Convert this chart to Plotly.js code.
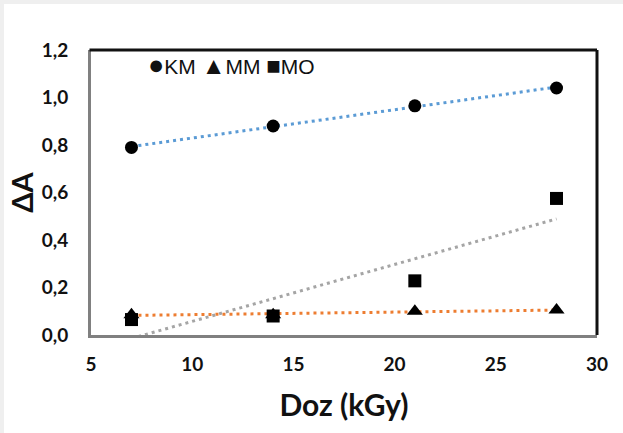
<!DOCTYPE html>
<html>
<head>
<meta charset="utf-8">
<script src="https://cdn.plot.ly/plotly-3.0.1.min.js"></script>
<style>
  html, body { margin: 0; padding: 0; background: #efefef; width: 623px; height: 433px; overflow: hidden; }
  #chart { position: absolute; left: 4px; top: 4px; width: 619px; height: 429px; background: #fff; }
</style>
</head>
<body>
<div id="chart"></div>
<script>
// Data
const doses = [7, 14, 21, 28];
const kmValues = [0.79, 0.88, 0.965, 1.04];
const mmValues = [0.085, 0.085, 0.10, 0.105];
const moValues = [0.065, 0.08, 0.228, 0.575];
const seriesNames = ['KM', 'MM', 'MO'];
const xTicks = [5, 10, 15, 20, 25, 30];
const yTicks = [0, 0.2, 0.4, 0.6, 0.8, 1.0, 1.2];

// Least-squares linear trendline (as the spreadsheet trendline does)
function trend(xs, ys) {
  const n = xs.length;
  const mx = xs.reduce((a, b) => a + b, 0) / n;
  const my = ys.reduce((a, b) => a + b, 0) / n;
  let sxy = 0, sxx = 0;
  for (let i = 0; i < n; i++) { sxy += (xs[i] - mx) * (ys[i] - my); sxx += (xs[i] - mx) * (xs[i] - mx); }
  const m = sxy / sxx, c = my - m * mx;
  return xs.map(x => m * x + c);
}

const trendColors = ['#5B9BD5', '#ED7D31', '#A5A5A5'];
const symbols = ['circle', 'triangle-up', 'square'];
const allVals = [kmValues, mmValues, moValues];

const traces = [];
// trendlines first (drawn under markers)
allVals.forEach((vals, i) => {
  traces.push({
    x: doses, y: trend(doses, vals), mode: 'lines', showlegend: false, hoverinfo: 'skip',
    line: { color: trendColors[i], width: 3, dash: '3px,4px' }
  });
});
allVals.forEach((vals, i) => {
  traces.push({
    x: doses, y: vals, mode: 'markers', name: seriesNames[i], showlegend: false,
    marker: { symbol: symbols[i], color: '#000', size: i === 1 ? 14 : 13, line: { width: 0 } },
    cliponaxis: false
  });
});

const tickFont = { family: 'Lato, "Open Sans", sans-serif', size: 19, color: '#111', weight: 'bold' };

const layout = {
  width: 619, height: 429,
  margin: { l: 87, r: 26, t: 46, b: 98 },
  paper_bgcolor: '#ffffff', plot_bgcolor: '#ffffff',
  separators: ', ',
  showlegend: false,
  xaxis: {
    range: [5, 30], tickvals: xTicks, ticktext: xTicks.map(String),
    showgrid: false, zeroline: false, showline: true, linecolor: '#808080', linewidth: 3,
    ticks: '', ticklabelstandoff: 10, tickfont: tickFont,
    title: { text: 'Doz (kGy)', font: { family: 'Lato, "Open Sans", sans-serif', size: 30, color: '#111', weight: 'bold' }, standoff: 22 }
  },
  yaxis: {
    range: [0, 1.2], tickvals: yTicks, tickformat: '.1f',
    showgrid: false, zeroline: false, showline: true, linecolor: '#808080', linewidth: 3,
    ticks: '', ticklabelstandoff: 16, tickfont: tickFont,
    title: { text: 'ΔA', font: { family: 'Lato, "Open Sans", sans-serif', size: 29, color: '#111', weight: 'bold' }, standoff: 0 }
  },
  shapes: [
    { type: 'line', xref: 'paper', yref: 'paper', x0: -0.003, x1: 1, y0: 1, y1: 1, line: { color: '#111', width: 3 } },
    { type: 'line', xref: 'paper', yref: 'paper', x0: 1, x1: 1, y0: 0, y1: 1, line: { color: '#111', width: 3 } }
  ],
  annotations: [{
    xref: 'paper', yref: 'paper', x: 0.108, y: 0.947, xanchor: 'left', yanchor: 'middle', showarrow: false,
    text: '<span style="font-size:27px">●</span>' + seriesNames[0] + ' <span style="font-size:24px">▲</span>' + seriesNames[1] + ' <span style="font-size:24px">■</span>' + seriesNames[2],
    font: { family: '"Liberation Sans", Arial, sans-serif', size: 21, color: '#111' }
  }]
};

Plotly.newPlot('chart', traces, layout, { staticPlot: true, displayModeBar: false });
</script>
</body>
</html>
